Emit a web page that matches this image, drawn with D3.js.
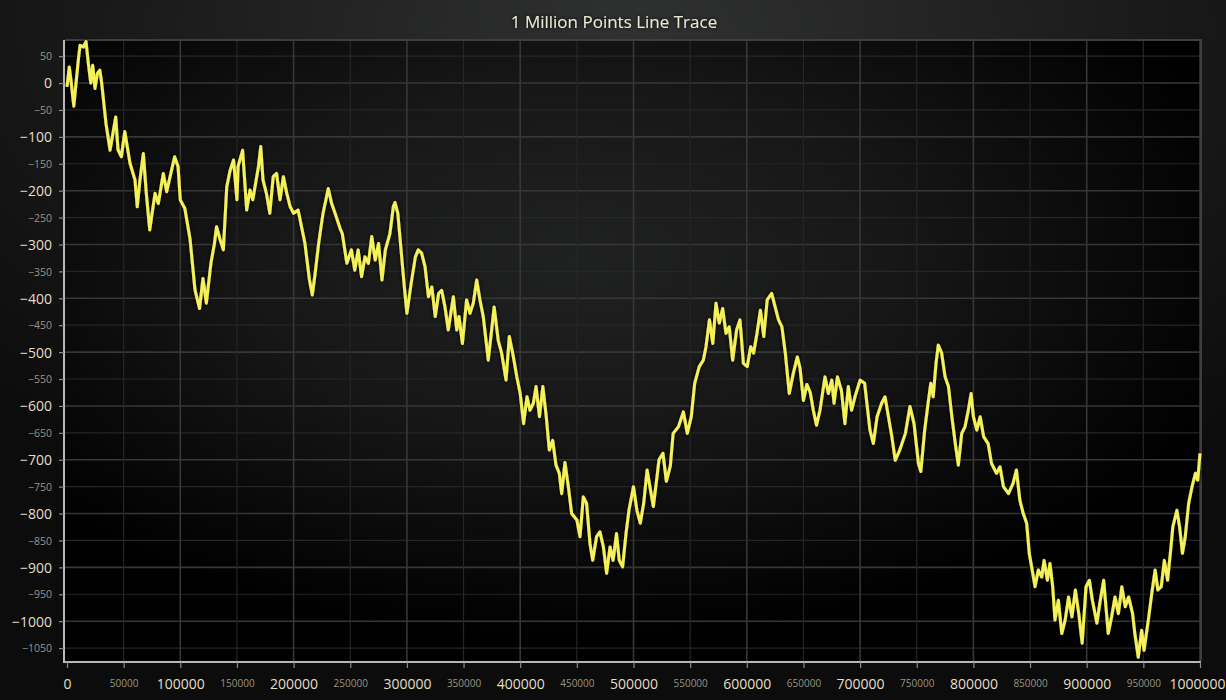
<!DOCTYPE html>
<html>
<head>
<meta charset="utf-8">
<script src="https://cdn.jsdelivr.net/npm/d3@7"></script>
<style>
html,body{margin:0;padding:0;background:#0b0b0b;overflow:hidden;}
svg{display:block;}
.ax text{font-family:"Open Sans","Noto Sans",sans-serif;}
</style>
</head>
<body>
<svg id="c" width="1226" height="700"></svg>
<script>
const title = "1 Million Points Line Trace";
const xDomain = [0, 1000000];
const yDomain = [-1074, 80];
const xTickValues = d3.range(0, 1000001, 50000);
const yTickValues = d3.range(-1050, 51, 50);
// point index (sample position)
const xs = [0,2000,3500,6000,10000,11500,14400,16800,18800,21000,22700,24700,26800,29000,30600,34400,38000,43000,45000,48000,51000,55600,60000,62000,64400,67400,70000,73000,77700,80600,85000,88000,91000,95000,98000,100000,104000,108600,113000,117000,120000,123000,127000,130000,132000,135000,138000,141000,144000,147000,150000,151000,155000,158600,161500,164000,169000,171000,173000,176000,179000,182000,185000,188000,191000,194000,197000,200000,204000,207000,210000,214000,216500,219000,222000,224000,226000,230600,233600,236600,241000,243000,247000,251000,254000,257000,260000,263000,266000,269000,272000,275000,278000,281000,285000,288000,289500,292000,294000,298000,300000,304000,307500,310000,313000,316000,319000,322000,325000,328000,330700,333600,336500,341000,344000,346000,349000,352700,355700,358600,361600,364500,367400,371800,374800,377000,380600,383600,387500,390400,394000,397000,400000,403000,406000,408600,411600,414000,417000,420000,423000,425700,428700,431600,434500,436600,439500,442500,445400,450000,452800,455700,458600,461600,464000,467400,470400,473400,476300,479300,482000,485000,487400,490400,493400,496000,500000,503000,506000,509000,512000,514500,517500,520400,522500,526000,529000,532500,535000,539600,544000,547500,551000,554000,558000,561600,564000,567000,570000,572800,575700,578700,581600,584500,587500,591000,594000,597000,600400,603400,606000,609000,612000,615000,618000,622000,625000,628000,631000,634000,637500,641000,644600,647000,650000,653000,656000,658700,661500,664600,669000,672000,675000,677000,680000,683500,686600,689600,692500,695500,700000,704000,708700,711700,715000,719000,722000,725000,728000,731000,735000,740000,744000,747600,751500,753600,757000,760000,762400,764500,767000,769000,772000,775000,778000,781000,784000,786700,789700,792600,795500,798000,800000,803000,806000,809000,813000,816000,820400,823500,826500,831000,835000,838000,841000,844000,847000,849300,851400,854400,857300,860300,862400,865300,867600,870000,872000,875000,878000,881000,884000,887000,890000,893000,896000,899400,902400,905000,909000,912000,915000,919000,922000,925000,928000,931000,934000,937000,940500,942500,945500,948500,950600,954400,957400,960400,962800,965800,968500,971400,974400,976000,979600,982000,984500,987000,990000,993000,996000,998000,1000000];
const ys = [-7,30,5,-43,43,70,67,77,37,0,33,-10,18,24,0,-75,-125,-63,-124,-137,-90,-149,-180,-230,-180,-131,-205,-273,-205,-224,-168,-202,-174,-137,-155,-217,-233,-290,-385,-419,-363,-409,-335,-300,-267,-290,-310,-193,-162,-143,-217,-155,-125,-236,-199,-217,-155,-118,-180,-205,-242,-174,-168,-217,-174,-205,-230,-242,-236,-267,-298,-366,-394,-354,-300,-270,-242,-196,-224,-242,-270,-280,-335,-310,-348,-310,-360,-323,-335,-285,-329,-298,-366,-310,-280,-230,-222,-242,-290,-385,-428,-369,-323,-310,-316,-341,-397,-379,-434,-391,-385,-416,-459,-397,-459,-434,-484,-403,-428,-409,-366,-403,-434,-515,-459,-416,-478,-502,-552,-471,-509,-546,-577,-633,-583,-608,-595,-564,-620,-564,-620,-682,-664,-710,-725,-763,-705,-750,-800,-812,-843,-769,-781,-856,-887,-843,-834,-862,-911,-862,-887,-837,-887,-899,-837,-794,-750,-794,-818,-781,-719,-750,-787,-738,-700,-688,-740,-712,-651,-639,-611,-651,-620,-558,-527,-515,-490,-440,-484,-409,-446,-419,-465,-453,-515,-459,-440,-521,-527,-490,-502,-465,-422,-471,-403,-391,-416,-440,-453,-502,-577,-540,-509,-530,-590,-560,-575,-608,-636,-608,-546,-577,-552,-595,-546,-571,-633,-564,-608,-583,-552,-558,-645,-670,-620,-595,-583,-620,-657,-701,-682,-651,-601,-633,-707,-722,-645,-595,-558,-583,-521,-487,-502,-546,-564,-620,-670,-710,-651,-639,-608,-577,-620,-645,-620,-657,-670,-707,-725,-713,-750,-763,-744,-719,-775,-800,-818,-874,-899,-936,-905,-918,-887,-924,-893,-936,-998,-961,-1023,-998,-955,-992,-942,-986,-1041,-936,-924,-961,-1004,-961,-924,-1023,-992,-955,-986,-936,-973,-955,-986,-1023,-1067,-1017,-1054,-998,-949,-905,-942,-936,-887,-924,-862,-825,-794,-825,-874,-843,-781,-750,-725,-738,-688];

const W = 1226, H = 700;
const svg = d3.select("#c");
const defs = svg.append("defs");

const bg = defs.append("radialGradient").attr("id","bg")
  .attr("cx","52%").attr("cy","4%").attr("r","75%");
bg.append("stop").attr("offset","0%").attr("stop-color","#303131");
bg.append("stop").attr("offset","55%").attr("stop-color","#1a1a1a");
bg.append("stop").attr("offset","100%").attr("stop-color","#0c0c0c");

const pg = defs.append("radialGradient").attr("id","pg")
  .attr("cx","45%").attr("cy","35%").attr("r","62%");
pg.append("stop").attr("offset","0%").attr("stop-color","#202121");
pg.append("stop").attr("offset","45%").attr("stop-color","#171717");
pg.append("stop").attr("offset","100%").attr("stop-color","#000000");

const glow = defs.append("filter").attr("id","glow")
  .attr("x","-5%").attr("y","-5%").attr("width","110%").attr("height","110%");
glow.append("feDropShadow").attr("dx",0).attr("dy",0).attr("stdDeviation",2)
  .attr("flood-color","#000").attr("flood-opacity",1);

const tglow = defs.append("filter").attr("id","tglow")
  .attr("x","-10%").attr("y","-50%").attr("width","120%").attr("height","200%");
tglow.append("feDropShadow").attr("dx",0).attr("dy",0).attr("stdDeviation",2)
  .attr("flood-color","#000").attr("flood-opacity",1);

svg.append("rect").attr("width",W).attr("height",H).attr("fill","url(#bg)");

const pLeft = 65, pRight = 1201, pTop = 40, pBottom = 661;
const x = d3.scaleLinear().domain(xDomain).range([67, 1200]);
const y = d3.scaleLinear().domain(yDomain).range([pBottom, pTop]);

svg.append("rect").attr("x",pLeft).attr("y",pTop).attr("width",pRight-pLeft).attr("height",pBottom-pTop)
  .attr("fill","url(#pg)");

// grid
const grid = svg.append("g");
yTickValues.forEach(v => {
  const major = v % 100 === 0;
  grid.append("line").attr("x1",pLeft).attr("x2",pRight).attr("y1",y(v)).attr("y2",y(v))
    .attr("stroke", major ? "#373737" : "#262626").attr("stroke-width", major ? 1.6 : 1.2);
});
xTickValues.forEach(v => {
  const major = v % 100000 === 0;
  if (v === 0) return;
  grid.append("line").attr("x1",x(v)).attr("x2",x(v)).attr("y1",pTop).attr("y2",pBottom)
    .attr("stroke", major ? "#373737" : "#262626").attr("stroke-width", major ? 1.6 : 1.2);
});

// frame top/right
svg.append("path").attr("d",`M${pLeft},${pTop}H${pRight}V${pBottom}`)
  .attr("fill","none").attr("stroke","#3e3e3e").attr("stroke-width",2);

// line
const line = d3.line().x((d,i)=>x(xs[i])).y((d,i)=>y(ys[i]));
svg.append("path").datum(ys).attr("d",line)
  .attr("fill","none").attr("stroke","#f5f15a").attr("stroke-width",3)
  .attr("stroke-linejoin","round").attr("filter","url(#glow)");

// axes
const yAxis = d3.axisLeft(y).tickValues(yTickValues).tickSize(5).tickPadding(7)
  .tickFormat(d3.format("d"));
const gy = svg.append("g").attr("class","ax").attr("transform",`translate(${pLeft-1},0)`).call(yAxis);
gy.select(".domain").attr("stroke","#b8b8b8").attr("stroke-width",2)
  .attr("d",`M0,${pTop}V${pBottom+1}`);
gy.selectAll(".tick line").attr("stroke","#8a8a8a").attr("stroke-width",1.2);
gy.selectAll(".tick text").each(function(v){
  const major = v % 100 === 0;
  d3.select(this).attr("fill", major ? "#e4dfc8" : "#9a9582")
    .attr("font-size", major ? 14 : 10.5).attr("dy","0.35em");
});

const xAxis = d3.axisBottom(x).tickValues(xTickValues).tickSize(6).tickPadding(8)
  .tickFormat(d3.format("d"));
const gx = svg.append("g").attr("class","ax").attr("transform",`translate(0,${pBottom+1})`).call(xAxis);
gx.select(".domain").attr("stroke","#b8b8b8").attr("stroke-width",2)
  .attr("d",`M${pLeft-2},0H${pRight}`);
gx.selectAll(".tick line").attr("stroke","#8a8a8a").attr("stroke-width",1.2);
gx.selectAll(".tick text").each(function(v){
  const major = v % 100000 === 0;
  d3.select(this).attr("fill", major ? "#e4dfc8" : "#9a9582")
    .attr("font-size", major ? 14 : 10)
    .attr("y", 0).attr("dy", null)
    .attr("transform", `translate(0,${major ? 23 : 22})`)
    .attr("dominant-baseline","middle");
  if (v === 1000000) d3.select(this).attr("text-anchor","end").attr("x", 1226 - x(v) - 1);
});

svg.append("text").attr("x",614).attr("y",23).attr("text-anchor","middle")
  .attr("dominant-baseline","middle")
  .attr("font-family","'Open Sans','Noto Sans',sans-serif").attr("font-size",17)
  .attr("fill","#ebe6d2").attr("filter","url(#tglow)").text(title);
</script>
</body>
</html>
